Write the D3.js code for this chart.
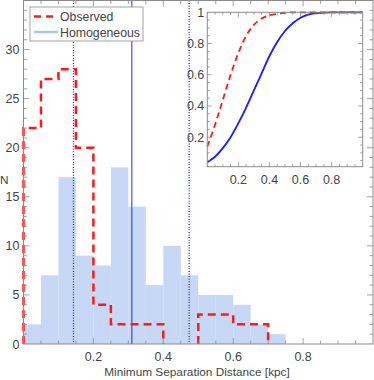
<!DOCTYPE html>
<html>
<head>
    <script src="https://d3js.org/d3.v7.min.js"></script>
    <style>
        body { margin: 0; background: #fff; }
        text { font-family: "Liberation Sans", Arial, sans-serif; fill: #444; }
    </style>
</head>
<body>
    <svg width="374" height="380"></svg>
    <script>
        // histogram bins (kpc), width 0.05
        const binStarts = [0, 0.05, 0.1, 0.15, 0.2, 0.25, 0.3, 0.35, 0.4, 0.45, 0.5, 0.55, 0.6, 0.65, 0.7];
        const binWidth = 0.05;
        const homogeneous = [2, 7, 17, 9, 8, 18, 14, 6, 10, 7, 5, 5, 4, 2, 1];
        const observed = [22, 27, 28, 20, 4, 2, 2, 2, 0, 0, 3, 3, 2, 2, 0];

        // vertical markers
        const dottedLines = [0.143, 0.474];
        const solidLines = [0.31];

        // inset cumulative curves
        const cdfX = [0, 0.05, 0.1, 0.15, 0.2, 0.25, 0.3, 0.35, 0.4, 0.45, 0.5, 0.55, 0.6, 0.65, 0.7, 0.8, 0.9, 1.0];
        const cdfObserved = [0.14, 0.28, 0.44, 0.6, 0.74, 0.85, 0.92, 0.96, 0.98, 0.99, 0.997, 1, 1, 1, 1, 1, 1, 1];
        const cdfHomog = [0.04, 0.075, 0.13, 0.2, 0.29, 0.39, 0.5, 0.61, 0.72, 0.81, 0.88, 0.93, 0.965, 0.985, 0.995, 1, 1, 1];

        const xTicks = [0.2, 0.4, 0.6, 0.8];
        const yTicks = [0, 5, 10, 15, 20, 25, 30];
        const insetYTicks = [0.2, 0.4, 0.6, 0.8, 1];

        const svg = d3.select('svg');
        const frame = '#8a8a8a';
        const pl = 23.5, pr = 373, pt = 0.5, pb = 344;

        const x = d3.scaleLinear().domain([0, 1]).range([pl, pr]);
        const y = d3.scaleLinear().domain([0, 35]).range([pb, pt]);

        svg.append('clipPath').attr('id', 'clip')
            .append('rect').attr('x', pl - 2).attr('y', pt)
            .attr('width', pr - pl + 2).attr('height', pb - pt + 1);

        const plot = svg.append('g').attr('clip-path', 'url(#clip)');

        // homogeneous histogram
        plot.selectAll('.bar')
            .data(binStarts)
            .enter()
            .append('rect')
            .attr('x', d => x(d))
            .attr('y', (d, i) => y(homogeneous[i]))
            .attr('width', x(binWidth) - x(0))
            .attr('height', (d, i) => y(0) - y(homogeneous[i]))
            .attr('fill', '#c6d8f5');

        // marker lines
        plot.selectAll('.dotted')
            .data(dottedLines)
            .enter()
            .append('line')
            .attr('x1', d => x(d)).attr('x2', d => x(d))
            .attr('y1', pt).attr('y2', pb)
            .attr('stroke', '#2828f0')
            .attr('stroke-width', 1.3)
            .attr('stroke-dasharray', '1,1.6');

        plot.selectAll('.solid')
            .data(solidLines)
            .enter()
            .append('line')
            .attr('x1', d => x(d)).attr('x2', d => x(d))
            .attr('y1', pt).attr('y2', pb)
            .attr('stroke', '#2828f0')
            .attr('stroke-width', 1);

        // observed step outline, split at empty bins
        const runs = [];
        let cur = null;
        binStarts.forEach((b, i) => {
            if (observed[i] > 0) {
                if (!cur) { cur = [[b, 0]]; runs.push(cur); }
                cur.push([b, observed[i]], [b + binWidth, observed[i]]);
            } else if (cur) {
                cur.push([b, 0]);
                cur = null;
            }
        });
        const line = d3.line().x(d => x(d[0])).y(d => y(d[1]));
        plot.selectAll('.obs')
            .data(runs)
            .enter()
            .append('path')
            .attr('d', line)
            .attr('fill', 'none')
            .attr('stroke', '#ff1a1a')
            .attr('stroke-width', 2.5)
            .attr('stroke-dasharray', '8,5');

        // frame and ticks
        svg.append('rect')
            .attr('x', pl).attr('y', pt)
            .attr('width', pr - pl).attr('height', pb - pt)
            .attr('fill', 'none').attr('stroke', frame);

        const ticks = svg.append('g').attr('stroke', frame).attr('stroke-width', 0.8);
        d3.range(0.05, 1, 0.05).forEach(v => {
            const len = Math.abs(v * 5 - Math.round(v * 5)) < 1e-6 ? 6 : 3.5;
            ticks.append('line').attr('x1', x(v)).attr('x2', x(v)).attr('y1', pb).attr('y2', pb - len);
            ticks.append('line').attr('x1', x(v)).attr('x2', x(v)).attr('y1', pt).attr('y2', pt + len);
        });
        d3.range(1, 35, 1).forEach(v => {
            const len = v % 5 === 0 ? 6 : 3.5;
            ticks.append('line').attr('x1', pl).attr('x2', pl + len).attr('y1', y(v)).attr('y2', y(v));
            ticks.append('line').attr('x1', pr).attr('x2', pr - len).attr('y1', y(v)).attr('y2', y(v));
        });

        svg.selectAll('.xt')
            .data(xTicks)
            .enter()
            .append('text')
            .attr('x', d => x(d)).attr('y', pb + 17)
            .attr('text-anchor', 'middle')
            .attr('font-size', 12.5)
            .text(d => d);

        svg.selectAll('.yt')
            .data(yTicks)
            .enter()
            .append('text')
            .attr('x', pl - 4).attr('y', d => y(d) + 4.5)
            .attr('text-anchor', 'end')
            .attr('font-size', 12.5)
            .text(d => d);

        svg.append('text')
            .attr('x', 197).attr('y', 376)
            .attr('text-anchor', 'middle')
            .attr('font-size', 11.8)
            .text('Minimum Separation Distance [kpc]');

        svg.append('text')
            .attr('x', 0).attr('y', 184)
            .attr('font-size', 11.8)
            .text('N');

        // legend
        const lg = svg.append('g').attr('transform', 'translate(30,7)');
        lg.append('rect').attr('width', 113).attr('height', 34)
            .attr('fill', '#fff').attr('stroke', frame).attr('stroke-width', 0.8);
        lg.append('line').attr('x1', 4).attr('x2', 28).attr('y1', 9.5).attr('y2', 9.5)
            .attr('stroke', '#ff1a1a').attr('stroke-width', 2.5).attr('stroke-dasharray', '7,5');
        lg.append('line').attr('x1', 4).attr('x2', 28).attr('y1', 25).attr('y2', 25)
            .attr('stroke', '#a8c4f0').attr('stroke-width', 2.5);
        lg.append('text').attr('x', 30).attr('y', 14).attr('font-size', 12.3).text('Observed');
        lg.append('text').attr('x', 30).attr('y', 30).attr('font-size', 12.3).text('Homogeneous');

        // inset
        const il = 207.3, ir = 362.7, it = 12.3, ib = 166.7;
        const ix = d3.scaleLinear().domain([0, 1]).range([il, ir]);
        const iy = d3.scaleLinear().domain([0.011, 1]).range([ib, it]);

        svg.append('rect').attr('x', il).attr('y', it)
            .attr('width', ir - il).attr('height', ib - it).attr('fill', '#fff');

        const ig = svg.append('g');
        const cdfLine = d3.line().x(d => ix(d[0])).y(d => iy(d[1])).curve(d3.curveMonotoneX);

        ig.append('path')
            .attr('d', cdfLine(cdfX.map((v, i) => [v, cdfHomog[i]])))
            .attr('fill', 'none').attr('stroke', '#1a1aff').attr('stroke-width', 1.8);
        ig.append('path')
            .attr('d', cdfLine(cdfX.map((v, i) => [v, cdfObserved[i]])))
            .attr('fill', 'none').attr('stroke', '#ff1a1a').attr('stroke-width', 1.8)
            .attr('stroke-dasharray', '6,4');

        ig.append('rect').attr('x', il).attr('y', it)
            .attr('width', ir - il).attr('height', ib - it)
            .attr('fill', 'none').attr('stroke', frame);

        const iticks = ig.append('g').attr('stroke', frame).attr('stroke-width', 0.8);
        d3.range(0.05, 1, 0.05).forEach(v => {
            const len = Math.abs(v * 5 - Math.round(v * 5)) < 1e-6 ? 4.5 : 2.5;
            iticks.append('line').attr('x1', ix(v)).attr('x2', ix(v)).attr('y1', ib).attr('y2', ib - len);
            iticks.append('line').attr('x1', ix(v)).attr('x2', ix(v)).attr('y1', it).attr('y2', it + len);
        });
        d3.range(0.05, 1, 0.05).forEach(v => {
            const len = Math.abs(v * 5 - Math.round(v * 5)) < 1e-6 ? 4.5 : 2.5;
            iticks.append('line').attr('x1', il).attr('x2', il + len).attr('y1', iy(v)).attr('y2', iy(v));
            iticks.append('line').attr('x1', ir).attr('x2', ir - len).attr('y1', iy(v)).attr('y2', iy(v));
        });

        ig.selectAll('.ixt')
            .data(xTicks)
            .enter()
            .append('text')
            .attr('x', d => ix(d)).attr('y', ib + 17)
            .attr('text-anchor', 'middle')
            .attr('font-size', 12.5)
            .text(d => d);

        ig.selectAll('.iyt')
            .data(insetYTicks)
            .enter()
            .append('text')
            .attr('x', il - 3).attr('y', d => iy(d) + 4.5)
            .attr('text-anchor', 'end')
            .attr('font-size', 12.5)
            .text(d => d);
    </script>
</body>
</html>
